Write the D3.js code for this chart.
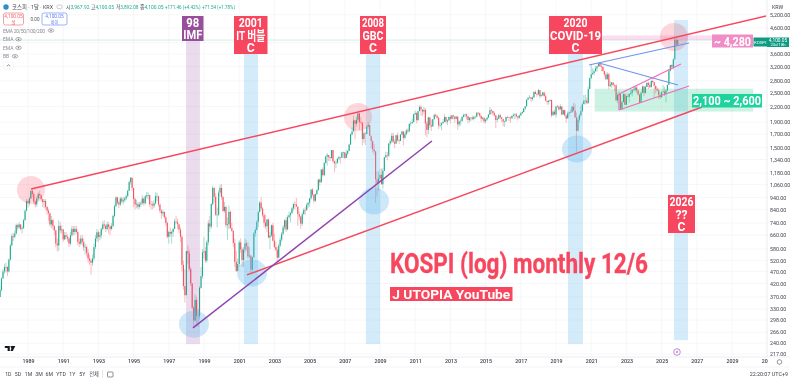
<!DOCTYPE html>
<html>
<head>
<meta charset="utf-8">
<script src="https://cdnjs.cloudflare.com/ajax/libs/d3/7.8.5/d3.min.js"></script>
<style>
html, body { margin: 0; padding: 0; background: #fff; overflow: hidden; }
svg { display: block; filter: blur(0.3px); font-family: Roboto, "Noto Sans CJK KR", sans-serif; }
.axis path, .axis line { display: none; }
.axis text { font-family: Roboto, sans-serif; font-size: 5.3px; fill: #3b3f4a; }
</style>
</head>
<body>
<div id="chart"></div>
<script>
// monthly KOSPI, first candle is June 1987
const startYear = 1987, startMonth = 5, firstOpen = 370

const closes = [
  395,440,470,490,490,470,525,
  600,655,650,670,725,710,730,700,705,760,830,908,
  890,930,1000,970,905,880,930,970,960,925,900,909,
  860,830,810,730,760,720,690,610,600,720,690,696,
  635,660,650,640,610,660,700,680,700,680,620,610,
  640,620,590,590,560,530,520,510,530,590,640,678,
  650,660,700,730,720,700,730,715,700,720,790,866,
  940,895,880,930,905,915,930,950,1000,1085,1130,1027,
  925,880,885,860,880,890,930,890,950,960,960,882,
  880,870,890,950,950,880,830,810,820,780,740,650,
  680,670,680,700,750,745,730,695,650,500,410,376,
  568,558,481,420,335,297,360,310,310,403,450,562,
  568,520,618,737,715,883,1028,946,800,800,983,1028,
  943,828,860,725,731,821,705,688,613,514,471,504,
  617,578,523,577,612,595,541,545,479,537,671,693,
  748,819,895,847,796,742,717,764,646,658,724,627,
  591,575,535,599,633,669,710,759,697,782,796,810,
  848,883,880,862,803,785,735,803,835,834,878,895,
  932,1011,965,911,970,1008,1111,1083,1221,1158,1297,1379,
  1399,1371,1359,1464,1317,1295,1298,1352,1371,1364,1432,1434,
  1360,1417,1452,1542,1700,1743,1933,1873,1946,2064,1906,1897,
  1624,1711,1704,1825,1852,1674,1594,1474,1448,1113,1076,1124,
  1162,1063,1206,1369,1395,1390,1557,1591,1673,1580,1555,1682,
  1602,1594,1692,1741,1641,1698,1759,1743,1872,1882,1904,2051,
  2069,1939,2106,2192,2142,2101,2133,1880,1769,1988,1847,1825,
  1955,2030,2014,1981,1843,1854,1881,1905,1996,1912,1932,1997,
  1961,2026,2005,1964,2001,1863,1914,1926,1996,2030,2044,2011,
  1941,1980,1985,1961,1995,2002,2076,2068,2020,1964,1981,1916,
  1949,1985,2041,2127,2114,2074,2030,1941,1963,2029,1991,1961,
  1912,1917,1996,1994,1983,1970,2016,2034,2043,2008,1983,2026,
  2067,2091,2160,2205,2347,2392,2402,2363,2394,2523,2476,2467,
  2566,2427,2445,2515,2423,2326,2295,2322,2343,2029,2096,2041,
  2204,2195,2140,2203,2041,2130,2024,1967,2063,2083,2087,2197,
  2119,1987,1754,1947,2029,2108,2249,2326,2327,2267,2591,2873,
  2976,3013,3061,3147,3203,3296,3202,3199,3068,2970,2839,2977,
  2663,2699,2757,2695,2685,2332,2451,2472,2155,2293,2472,2236,
  2425,2412,2476,2501,2577,2564,2632,2556,2465,2277,2505,2655,
  2497,2642,2747,2692,2636,2797,2770,2674,2593,2556,2455,2399,
  2517,2532,2481,2556,2697,3071,3245,3186,3424,4107,3926,4100
]

const highs = [
  405,445,480,505,510,495,530,
  610,670,675,690,735,735,745,730,720,770,840,925,
  925,945,1007,1015,985,915,950,985,1000,965,930,925,
  925,865,845,815,790,770,725,695,640,760,745,725,
  700,680,680,665,650,680,720,720,720,720,690,640,
  660,660,640,610,600,580,550,530,550,610,660,700,
  690,680,710,750,760,730,750,745,725,740,800,880,
  950,945,910,945,945,945,945,965,1010,1100,1138,1130,
  1030,940,920,900,900,910,960,940,960,990,985,965,
  910,905,915,985,985,955,885,840,840,825,790,750,
  690,710,690,705,770,790,770,735,710,660,520,480,
  570,600,575,490,420,340,380,370,330,410,490,580,
  650,590,630,760,790,890,1050,1030,980,855,1005,1060,
  1066,950,900,870,780,870,830,740,690,640,570,530,
  630,640,590,590,640,630,620,590,550,540,680,710,
  760,830,910,943,860,810,800,770,770,680,730,740,
  670,620,590,610,650,680,725,765,780,795,825,820,
  860,890,905,936,860,825,790,820,850,860,890,897,
  935,1015,1025,970,975,1010,1115,1125,1225,1245,1310,1385,
  1425,1385,1375,1465,1465,1330,1325,1355,1385,1375,1435,1445,
  1435,1470,1460,1555,1710,1810,2015,1945,2005,2085,2064,1990,
  1890,1745,1730,1835,1900,1850,1640,1600,1550,1450,1200,1200,
  1230,1230,1240,1370,1440,1440,1560,1620,1720,1720,1620,1690,
  1725,1620,1700,1760,1750,1730,1785,1795,1880,1920,1965,2060,
  2115,2085,2110,2230,2230,2110,2190,2170,1920,2000,1990,1950,
  1960,2060,2060,2040,1990,1900,1900,1960,2050,2000,1950,2000,
  2030,2030,2040,2000,2020,2010,1930,1960,2010,2060,2060,2060,
  2010,1990,1990,2020,2020,2020,2090,2090,2080,2020,2000,1990,
  1960,1990,2050,2190,2150,2110,2100,2030,2000,2060,2050,1990,
  1930,1930,2000,2020,1990,2010,2030,2070,2070,2070,2010,2040,
  2090,2110,2170,2210,2360,2390,2450,2390,2420,2540,2560,2500,
  2600,2570,2470,2520,2470,2470,2300,2340,2350,2340,2120,2140,
  2210,2240,2220,2250,2210,2140,2130,2030,2100,2100,2140,2220,
  2280,2260,2080,2000,2060,2210,2280,2450,2460,2400,2660,2880,
  3270,3150,3110,3220,3240,3310,3290,3280,3200,3060,3020,3040,
  3010,2790,2770,2760,2710,2710,2500,2550,2460,2320,2500,2490,
  2440,2490,2480,2580,2590,2660,2670,2670,2600,2460,2530,2680,
  2680,2680,2760,2780,2750,2810,2900,2720,2660,2630,2610,2500,
  2540,2690,2650,2590,2700,3120,3250,3290,3460,4220,4226,4100
]

const lows = [
  370,390,440,460,465,450,465,
  520,595,625,640,665,690,700,690,670,700,755,825,
  855,870,925,945,880,855,860,915,930,905,860,850,
  840,800,755,715,705,695,660,590,566,570,670,670,
  620,630,635,620,590,600,650,660,660,670,600,590,
  600,600,570,550,540,510,500,456,495,520,580,620,
  620,630,640,690,700,680,690,670,660,690,710,780,
  860,880,850,865,890,880,900,915,945,1000,1060,1000,
  860,840,850,840,845,860,880,870,880,930,920,860,
  840,840,850,880,910,860,810,770,790,770,720,640,
  610,650,610,650,700,735,700,670,620,470,395,351,
  380,505,470,410,330,280,295,285,280,300,400,440,
  530,510,510,600,680,700,870,900,790,710,790,950,
  920,820,815,710,630,700,700,680,590,490,470,480,
  490,560,490,490,560,570,530,530,463,470,530,650,
  690,710,820,830,780,710,700,680,640,580,650,620,
  585,570,512,530,590,620,660,690,680,690,770,745,
  810,830,840,860,720,760,700,720,800,800,830,850,
  860,920,950,890,900,960,1000,1050,1080,1140,1150,1290,
  1265,1320,1320,1350,1300,1190,1235,1290,1330,1290,1360,1360,
  1345,1360,1395,1445,1540,1675,1750,1620,1825,1890,1770,1870,
  1530,1570,1535,1700,1785,1670,1490,1430,1400,892,950,1000,
  1090,1060,1020,1200,1360,1330,1370,1530,1560,1570,1490,1555,
  1590,1550,1605,1690,1530,1620,1680,1715,1740,1830,1880,1895,
  2030,1880,1920,2110,2020,2010,2050,1680,1650,1700,1800,1750,
  1830,1950,1990,1950,1780,1810,1760,1880,1900,1880,1850,1930,
  1880,1950,1950,1890,1950,1770,1820,1840,1900,1990,1990,1950,
  1880,1900,1920,1940,1930,1960,1990,2030,1990,1900,1930,1880,
  1880,1930,1980,2040,2050,2020,2000,1800,1900,1960,1950,1900,
  1830,1820,1910,1970,1920,1890,1970,2000,1960,1990,1930,1960,
  2020,2060,2080,2130,2210,2340,2380,2300,2320,2400,2470,2410,
  2450,2370,2410,2430,2420,2310,2240,2240,2310,1990,2020,2040,
  1990,2180,2120,2170,2030,2050,2010,1890,1980,2010,2080,2080,
  2100,1980,1439,1740,1900,2000,2090,2260,2240,2270,2310,2600,
  2850,2970,2960,3060,3050,3220,3180,3060,3060,2910,2840,2840,
  2590,2650,2620,2650,2540,2320,2270,2430,2130,2130,2330,2230,
  2250,2400,2290,2460,2420,2560,2530,2500,2440,2260,2300,2500,
  2430,2490,2640,2590,2630,2640,2730,2390,2490,2540,2360,2360,
  2400,2520,2430,2290,2540,2700,3060,3120,3110,3410,3850,3890
]

const priceTicks = [5200,4600,3600,3200,2800,2500,2200,1900,1700,1500,1340,1180,1060,940,840,740,660,580,520,470,420,370,330,298,266,240,217]
const yearTicks = [1989,1991,1993,1995,1997,1999,2001,2003,2005,2007,2009,2011,2013,2015,2017,2019,2021,2023,2025,2027,2029,2031]
const gridPrices = [5200,4600,4000,3600,3200,2800,2500,2200,1900,1700,1500,1340,1180,1060,940,840,740,660,580,520,470,420,370,330,298,266,240,217]

// drawings on the chart, [year, price]
const redLines = [[[1989.17,1017],[2030.93,5137]], [[2001.44,455],[2027.3,2191]]]
const purpleLine = [[1998.375,277],[2011.95,1594]]
const blueLines = [[[2020.875,3247],[2026.56,3990]], [[2021.44,3309],[2025.93,2693]]]
const pinkLines = [[[2022.58,2475],[2026.1,3278]], [[2022.58,2130],[2026.56,2667]], [[2022.58,2475],[2022.58,2130]]]
const pinkCircles = [[1989.17,1008],[2007.75,1995],[2025.7,4220]]
const blueCircles = [[1998.43,287],[2001.73,463],[2008.66,909],[2020.19,1479]]
const imfBand = [1997.98,1998.77,5137,238]
const blueBands = [[2001.27,2002.07,5137,238],[2008.2,2009,5137,238],[2019.68,2020.53,5137,238],[2025.7,2026.5,4948,247]]
const targetZone = [2021.61,2027.86,4280,4100]
const supportZone = [2021.2,2030.2,2600,2100]

const labelBoxes = [
  {lines: [["98",13],["IMF",19]], color: "#96509a", x: 182, y: 16, w: 21.5, h: 25},
  {lines: [["2001",24],["IT 버블",29],["C",8]], color: "#f7475f", x: 234, y: 16, w: 33.5, h: 38},
  {lines: [["2008",22],["GBC",21],["C",8]], color: "#f7475f", x: 360, y: 16, w: 26, h: 38},
  {lines: [["2020",24],["COVID-19",51],["C",8]], color: "#f7475f", x: 549, y: 16, w: 53, h: 38},
  {lines: [["2026",24],["??",12],["C",8]], color: "#f7475f", x: 668, y: 195, w: 27, h: 38}
]

const width = 790, height = 380
const plotRight = 767, plotBottom = 357

const svg = d3.select("#chart").append("svg").attr("width", width).attr("height", height)

const yearDate = yr => {
  const y = Math.floor(yr)
  const a = Date.UTC(y, 0, 1), b = Date.UTC(y + 1, 0, 1)
  return new Date(a + (yr - y) * (b - a))
}

const x = d3.scaleUtc()
  .domain([new Date(Date.UTC(1989, 0, 1)), new Date(Date.UTC(2031, 0, 1))])
  .range([28, 767.2])
const y = d3.scaleLog().domain([217, 5200]).range([354, 14.7])

const px = d => x(yearDate(d[0]))
const py = d => y(d[1])

// grid
svg.append("g").selectAll("line").data(yearTicks).enter().append("line")
  .attr("x1", d => x(new Date(Date.UTC(d, 0, 1)))).attr("x2", d => x(new Date(Date.UTC(d, 0, 1))))
  .attr("y1", 0).attr("y2", plotBottom).attr("stroke", "#f3f4f6").attr("stroke-width", 0.7)
svg.append("g").selectAll("line").data(gridPrices).enter().append("line")
  .attr("x1", 0).attr("x2", plotRight).attr("y1", d => y(d)).attr("y2", d => y(d))
  .attr("stroke", "#f3f4f6").attr("stroke-width", 0.7)

// last price line
svg.append("line").attr("x1", 0).attr("x2", plotRight).attr("y1", y(4100)).attr("y2", y(4100))
  .attr("stroke", "#bfe8dd").attr("stroke-width", 0.7)

// candles
const candles = closes.map((c, i) => ({
  date: new Date(Date.UTC(startYear, startMonth + i, 1)),
  open: i === 0 ? firstOpen : closes[i - 1],
  close: c,
  high: highs[i],
  low: lows[i]
}))
const candleColor = d => d.close >= d.open ? "#1faa8f" : "#f7525f"

const gCandle = svg.append("g")
gCandle.selectAll("line").data(candles).enter().append("line")
  .attr("x1", d => x(d.date)).attr("x2", d => x(d.date))
  .attr("y1", d => y(d.high)).attr("y2", d => y(d.low))
  .attr("stroke", candleColor).attr("stroke-width", 0.4)
gCandle.selectAll("rect").data(candles).enter().append("rect")
  .attr("x", d => x(d.date) - 0.55).attr("width", 1.1)
  .attr("y", d => y(Math.max(d.open, d.close)))
  .attr("height", d => Math.max(0.6, Math.abs(y(d.open) - y(d.close))))
  .attr("fill", candleColor)

// bands
const bandRect = (b, fill) => svg.append("rect")
  .attr("x", x(yearDate(b[0]))).attr("width", x(yearDate(b[1])) - x(yearDate(b[0])))
  .attr("y", y(b[2])).attr("height", y(b[3]) - y(b[2])).attr("fill", fill)

bandRect(imfBand, "rgba(150,80,160,0.2)")
blueBands.forEach(b => bandRect(b, "rgba(100,185,235,0.28)"))
bandRect(targetZone, "rgba(240,120,190,0.25)")
bandRect(supportZone, "rgba(40,200,140,0.24)")

// circles
svg.append("g").selectAll("ellipse").data(pinkCircles).enter().append("ellipse")
  .attr("cx", px).attr("cy", py).attr("rx", 14).attr("ry", 14)
  .attr("fill", "rgba(247,71,95,0.22)")
svg.append("g").selectAll("ellipse").data(blueCircles).enter().append("ellipse")
  .attr("cx", px).attr("cy", py).attr("rx", 15).attr("ry", 13.5)
  .attr("fill", "rgba(90,180,235,0.3)")

// trend lines
const trend = d3.line().x(px).y(py)
const drawLines = (lines, color, w) => svg.append("g").selectAll("path").data(lines).enter().append("path")
  .attr("d", trend).attr("fill", "none").attr("stroke", color).attr("stroke-width", w)

drawLines(blueLines, "#6f94ee", 1.2)
drawLines(pinkLines, "#f06abf", 1.2)
drawLines(redLines, "#f7475f", 1.5)
drawLines([purpleLine], "#8e44ad", 1.5)

// label boxes
const boxG = svg.append("g").selectAll("g").data(labelBoxes).enter().append("g")
boxG.append("rect").attr("x", d => d.x).attr("y", d => d.y).attr("width", d => d.w).attr("height", d => d.h)
  .attr("fill", d => d.color)
boxG.each(function (d) {
  const lh = d.lines.length === 2 ? 12.2 : 12.5
  d3.select(this).selectAll("text").data(d.lines).enter().append("text")
    .attr("x", d.x + d.w / 2).attr("y", (l, i) => d.y + 11 + i * lh)
    .attr("text-anchor", "middle").attr("fill", "#fff").attr("font-size", 12.6).attr("font-weight", 700)
    .attr("textLength", l => l[1]).attr("lengthAdjust", "spacingAndGlyphs")
    .text(l => l[0])
})

const tagBox = (bx, by, bw, bh, fill, txt, tw, fs, base) => {
  svg.append("rect").attr("x", bx).attr("y", by).attr("width", bw).attr("height", bh).attr("fill", fill)
  svg.append("text").attr("x", bx + bw / 2).attr("y", base).attr("text-anchor", "middle")
    .attr("fill", "#fff").attr("font-size", fs).attr("font-weight", 700)
    .attr("textLength", tw).attr("lengthAdjust", "spacingAndGlyphs").text(txt)
}
tagBox(712, 34.5, 41, 13, "#f08cc6", "~ 4,280", 37, 13, 45.5)
tagBox(692, 94, 70, 13.5, "#1fd39e", "2,100 ~ 2,600", 68, 13, 105.2)
tagBox(390, 287, 122.5, 14, "#f7475f", "J UTOPIA YouTube", 118, 13.5, 298.6)

svg.append("text").attr("x", 390).attr("y", 273).attr("fill", "#f7475f")
  .attr("font-size", 27.5).attr("font-weight", 700).attr("stroke", "#f7475f").attr("stroke-width", 0.35)
  .attr("textLength", 258).attr("lengthAdjust", "spacingAndGlyphs")
  .text("KOSPI (log) monthly 12/6")

// right axis
svg.append("rect").attr("x", plotRight).attr("y", 0).attr("width", width - plotRight).attr("height", plotBottom).attr("fill", "#fff")
svg.append("g").attr("class", "axis").attr("transform", `translate(${plotRight},0)`)
  .call(d3.axisRight(y).tickValues(priceTicks).tickFormat(d3.format(",.2f")).tickSize(0).tickPadding(3))
svg.append("line").attr("x1", plotRight).attr("x2", plotRight).attr("y1", 0).attr("y2", plotBottom).attr("stroke", "#e4e5e9").attr("stroke-width", 0.7)
svg.append("text").attr("x", 772).attr("y", 8.5).attr("font-size", 5.3).attr("fill", "#3b3f4a").text("KRW")

// price tags on the axis
svg.append("rect").attr("x", 753.5).attr("y", 37.5).attr("width", 13.5).attr("height", 9).attr("fill", "#0d9b82")
svg.append("text").attr("x", 760.2).attr("y", 43.6).attr("text-anchor", "middle").attr("font-size", 4.4).attr("fill", "#fff").text("KOSPI")
svg.append("rect").attr("x", 767).attr("y", 37.5).attr("width", 22).attr("height", 9.5).attr("fill", "#0d9b82")
svg.append("text").attr("x", 778).attr("y", 41.7).attr("text-anchor", "middle").attr("font-size", 4.8).attr("fill", "#fff").text("4,100.05")
svg.append("text").attr("x", 778).attr("y", 46).attr("text-anchor", "middle").attr("font-size", 4.2).attr("fill", "#fff").text("23d 18h")

// time axis
svg.append("clipPath").attr("id", "timeclip").append("rect")
  .attr("x", 0).attr("y", 0).attr("width", plotRight + 1).attr("height", 12)
svg.append("g").attr("class", "axis").attr("clip-path", "url(#timeclip)")
  .attr("transform", `translate(0,${plotBottom})`)
  .call(d3.axisBottom(x).tickValues(yearTicks.map(d => new Date(Date.UTC(d, 0, 1)))).tickFormat(d3.utcFormat("%Y")).tickSize(0).tickPadding(2))
  .selectAll("text").attr("font-weight", 500)
svg.append("line").attr("x1", 0).attr("x2", width).attr("y1", plotBottom).attr("y2", plotBottom).attr("stroke", "#e4e5e9").attr("stroke-width", 0.7)
svg.append("line").attr("x1", 0).attr("x2", width).attr("y1", 367).attr("y2", 367).attr("stroke", "#eeeff2").attr("stroke-width", 0.7)

// settings button, lightning marker
svg.append("circle").attr("cx", 779.5).attr("cy", 362).attr("r", 2.3).attr("fill", "none").attr("stroke", "#555").attr("stroke-width", 0.6)
svg.append("circle").attr("cx", 677).attr("cy", 352).attr("r", 3.3).attr("fill", "#fff").attr("stroke", "#a855c8").attr("stroke-width", 0.7)
svg.append("path").attr("d", "M677.6 349.8 L675.9 352.4 L677 352.4 L676.4 354.2 L678.2 351.5 L677.1 351.5 Z").attr("fill", "#a855c8")

// tv logo
svg.append("path").attr("d", "M4.8 346 H9.8 V351 H7.6 V348 H4.8 Z M10.4 346 H15.3 L12.8 351 H10.4 L11.4 348.7 Z").attr("fill", "#131722")

// header
svg.append("circle").attr("cx", 6).attr("cy", 7).attr("r", 2.7).attr("fill", "#2f8fc4")
svg.append("text").attr("x", 12).attr("y", 9).attr("font-size", 6).attr("fill", "#4a4e59")
  .attr("textLength", 41).attr("lengthAdjust", "spacingAndGlyphs").text("코스피 · 1달 · KRX")
svg.append("rect").attr("x", 57).attr("y", 5).attr("width", 5).attr("height", 3.6).attr("rx", 1.2).attr("fill", "none").attr("stroke", "#9a9da6").attr("stroke-width", 0.5)

const ohlcParts = [[66, "시", "3,967.92", 23.5], [91, "고", "4,100.05", 23], [116, "저", "3,892.08", 22.5], [140, "종", "4,100.05", 23.5], [165, "", "+171.46 (+4.42%)", 35.5], [202, "", "+71.54 (+1.78%)", 33]]
const ohlcText = svg.append("g").selectAll("text").data(ohlcParts).enter().append("text")
  .attr("x", d => d[0]).attr("y", 9).attr("font-size", 5.4)
  .attr("textLength", d => d[3]).attr("lengthAdjust", "spacingAndGlyphs")
ohlcText.append("tspan").attr("fill", "#4a4e59").text(d => d[1])
ohlcText.append("tspan").attr("fill", "#1faa8f").text(d => d[2])

const tradeBox = (bx, bw, color, a, b) => {
  svg.append("rect").attr("x", bx).attr("y", 13).attr("width", bw).attr("height", 12).attr("rx", 2).attr("fill", "#fff").attr("stroke", color).attr("stroke-width", 0.6)
  svg.append("text").attr("x", bx + bw / 2).attr("y", 18.3).attr("text-anchor", "middle").attr("font-size", 4.8).attr("fill", color).text(a)
  svg.append("text").attr("x", bx + bw / 2).attr("y", 23.5).attr("text-anchor", "middle").attr("font-size", 4.2).attr("fill", color).text(b)
}
tradeBox(3.5, 20, "#f0616d", "4,100.05", "셀")
tradeBox(42, 25, "#5b7ff0", "4,100.05", "바이")
svg.append("text").attr("x", 35).attr("y", 20.5).attr("text-anchor", "middle").attr("font-size", 4.6).attr("fill", "#555").text("0.00")

const legendRows = [["EMA 20/50/100/200", 30.5, 51], ["EMA", 39.2, 18.5], ["EMA", 47.8, 18.5], ["BB", 56.3, 15]]
legendRows.forEach(r => {
  svg.append("text").attr("x", 3).attr("y", r[1] + 2).attr("font-size", 5).attr("fill", "#8a8d96")
    .attr("textLength", r[0].length > 3 ? 42 : null).text(r[0])
  svg.append("ellipse").attr("cx", r[2]).attr("cy", r[1]).attr("rx", 2.8).attr("ry", 1.7).attr("fill", "none").attr("stroke", "#777").attr("stroke-width", 0.6)
  svg.append("circle").attr("cx", r[2]).attr("cy", r[1]).attr("r", 0.8).attr("fill", "#777")
})
svg.append("rect").attr("x", 3.5).attr("y", 62).attr("width", 10).attr("height", 7).attr("rx", 1.5).attr("fill", "#fff").attr("stroke", "#eceef1").attr("stroke-width", 0.6)
svg.append("path").attr("d", "M6.8 66.2 L8.5 64.8 L10.2 66.2").attr("fill", "none").attr("stroke", "#444").attr("stroke-width", 0.6)

// bottom toolbar
const rangeButtons = [["1D", 8.3], ["5D", 18], ["1M", 28.5], ["3M", 39], ["6M", 49.3], ["YTD", 61], ["1Y", 72.3], ["5Y", 82.3], ["전체", 94]]
svg.append("g").selectAll("text").data(rangeButtons).enter().append("text")
  .attr("x", d => d[1]).attr("y", 376).attr("text-anchor", "middle").attr("font-size", 5.2).attr("fill", "#3b3f4a").text(d => d[0])
svg.append("line").attr("x1", 102.5).attr("x2", 102.5).attr("y1", 370).attr("y2", 378).attr("stroke", "#d8dade").attr("stroke-width", 0.6)
svg.append("rect").attr("x", 107.5).attr("y", 372).attr("width", 5.5).attr("height", 5).attr("rx", 0.8).attr("fill", "none").attr("stroke", "#444").attr("stroke-width", 0.6)
svg.append("text").attr("x", 788).attr("y", 375.5).attr("text-anchor", "end").attr("font-size", 5.4).attr("fill", "#3b3f4a").text("22:20:07 UTC+9")
</script>
</body>
</html>
